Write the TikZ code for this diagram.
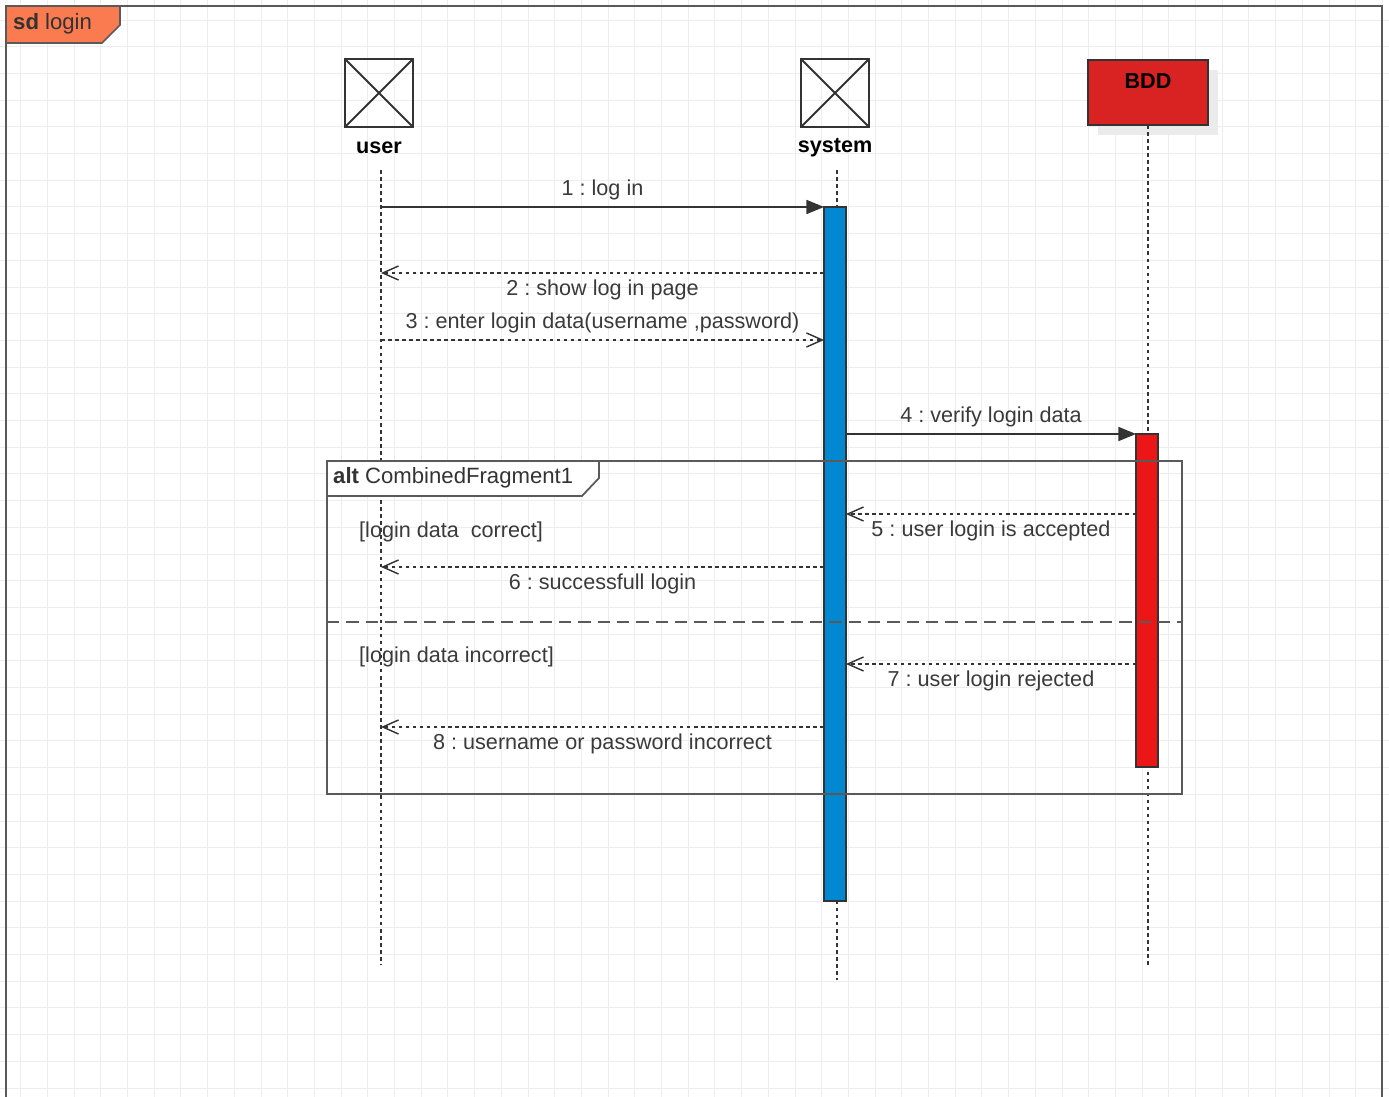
\documentclass[tikz,border=0pt]{standalone}
\usepackage{fontspec}
\setmainfont{Liberation Sans}
\usepackage{xcolor}
\usepackage{tikz}
\usetikzlibrary{arrows.meta,positioning,fit}
\definecolor{gridc}{HTML}{EDEDED}
\definecolor{framec}{HTML}{5A5A5A}
\definecolor{linec}{HTML}{333333}
\definecolor{txt}{HTML}{3A3A3A}
\definecolor{sdorange}{HTML}{F97B4F}
\definecolor{bddred}{HTML}{D92222}
\definecolor{actred}{HTML}{EC1616}
\definecolor{sysblue}{HTML}{0288D1}
\newcommand{\umlfont}{\fontsize{12.3}{14}\selectfont}
\newcommand{\framefont}{\fontsize{12.6}{14}\selectfont}
\frenchspacing

\tikzset{
    lifeline/.style={linec,line width=0.8pt,dash pattern=on 2pt off 2pt},
    actorbox/.style={draw=linec,line width=1.1pt,inner sep=0pt,outer sep=0pt},
    actbar/.style={draw=linec,line width=0.8pt,inner sep=0pt,outer sep=0pt},
    call/.style={linec,line width=0.8pt,-{Triangle[length=10pt,width=8pt]}},
    reply/.style={linec,line width=0.8pt,dash pattern=on 2pt off 2pt,
                  -{Straight Barb[length=9pt,width=8pt]}},
    msglbl/.style={font=\umlfont,text=txt},
    frag/.style={draw=framec,line width=1pt,inner sep=0pt,outer sep=0pt},
}

\begin{document}
\begin{tikzpicture}[x=0.02cm,y=-0.02cm]
    \useasboundingbox (0,0) rectangle (1389,1097);
    % background grid
    \foreach \i in {0,...,51}
        \draw[gridc,line width=0.5pt] ({20.7+26.7*\i},0) -- ({20.7+26.7*\i},1097);
    \foreach \j in {0,...,40}
        \draw[gridc,line width=0.5pt] (0,{20+26.7*\j}) -- (1389,{20+26.7*\j});

    % diagram frame
    \draw[framec,line width=1.2pt] (6,1097) -- (6,6) -- (1382,6) -- (1382,1097);
    \draw[framec,line width=1pt,fill=sdorange]
        (6,6) -- (120,6) -- (120,25) -- (102,43) -- (6,43) -- cycle;
    \node[font=\framefont,text=linec,anchor=west] (sdlbl) at (7,24) {\textbf{sd} login};

    % participants
    \node[actorbox,fit={(345,59) (413,127)}] (user) {};
    \draw[linec,line width=1.1pt] (user.north west) -- (user.south east)
                                  (user.north east) -- (user.south west);
    \node[font=\umlfont\bfseries] (ulbl) at (379,148) {user};

    \node[actorbox,fit={(801,59) (869,127)}] (system) {};
    \draw[linec,line width=1.1pt] (system.north west) -- (system.south east)
                                  (system.north east) -- (system.south west);
    \node[font=\umlfont\bfseries] (slbl) at (835,148) {system};

    \fill[black!8] (1098,70) rectangle (1218,135);
    \node[actorbox,fill=bddred,fit={(1088,60) (1208,125)}] (bdd) {};
    \node[font=\umlfont\bfseries] (blbl) at (1148,81) {BDD};

    % lifelines
    \coordinate (utop) at (381,170);
    \coordinate (ubot) at (381,965);
    \coordinate (stop) at (837,170);
    \coordinate (sbot) at (837,980);
    \coordinate (bbot) at (1148,965);
    \draw[lifeline] (utop) -- (ubot);
    \draw[lifeline] (stop) -- (sbot);
    \draw[lifeline] (bdd.south -| bbot) -- (bbot);

    % activations
    \node[actbar,fill=sysblue,fit={(824,207) (846,901)}] (sysact) {};
    \node[actbar,fill=actred,fit={(1136,434) (1158,767)}] (bddact) {};

    % messages
    \draw[call] (utop |- 0,207) -- (sysact.west |- 0,207)
        node[msglbl,midway,above=0pt] {1 : log in};
    \draw[reply] (sysact.west |- 0,273) -- (utop |- 0,273)
        node[msglbl,midway,below=0pt] {2 : show log in page};
    \draw[reply] (utop |- 0,340) -- (sysact.west |- 0,340)
        node[msglbl,midway,above=0pt] {3 : enter login data(username ,password)};
    \draw[call] (sysact.east |- 0,434) -- (bddact.west |- 0,434)
        node[msglbl,midway,above=0pt] {4 : verify login data};
    \draw[reply] (bddact.west |- 0,514) -- (sysact.east |- 0,514)
        node[msglbl,midway,below=0pt] {5 : user login is accepted};
    \draw[reply] (sysact.west |- 0,567) -- (utop |- 0,567)
        node[msglbl,midway,below=0pt] {6 : successfull login};
    \draw[reply] (bddact.west |- 0,664) -- (sysact.east |- 0,664)
        node[msglbl,midway,below=0pt] {7 : user login rejected};
    \draw[reply] (sysact.west |- 0,727) -- (utop |- 0,727)
        node[msglbl,midway,below=0pt] {8 : username or password incorrect};

    % alt fragment
    \node[frag,fit={(327,461) (1182,794)}] (alt) {};
    \draw[frag,dash pattern=on 7pt off 4pt] (alt.west |- 0,622) -- (alt.east |- 0,622);
    \draw[frag,fill=white] (alt.north west) -- (599,461) -- (599,478) -- (582,496)
        -- (alt.west |- 0,496) -- cycle;
    \node[font=\framefont,text=linec,anchor=west] (altlbl) at (327,478)
        {\textbf{alt} CombinedFragment1};
    \node[msglbl,anchor=west] (guard1) at (353,532) {[login data\ \ correct]};
    \node[msglbl,anchor=west] (guard2) at (353,657) {[login data incorrect]};
\end{tikzpicture}
\end{document}
